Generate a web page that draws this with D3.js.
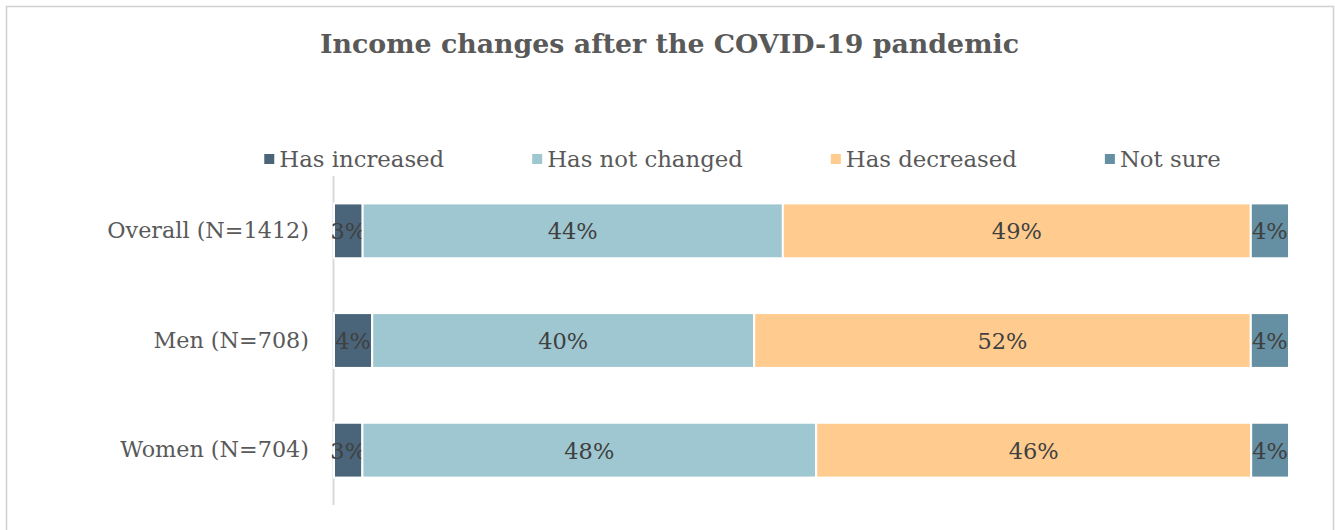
<!DOCTYPE html>
<html>
<head>
<meta charset="utf-8">
<script src="https://cdn.jsdelivr.net/npm/d3@7"></script>
<style>
  html, body { margin: 0; padding: 0; background: #fff; }
  svg { display: block; }
  text { font-family: "DejaVu Serif", Georgia, serif; fill: #595959; }
</style>
</head>
<body>
<svg id="chart" width="1335" height="530"></svg>
<script>
// Survey groups (top to bottom)
const groups = ["Overall (N=1412)", "Men (N=708)", "Women (N=704)"];

// Response categories, in stacking order
const responses = ["Has increased", "Has not changed", "Has decreased", "Not sure"];
const colors = ["#4a657a", "#9fc7d1", "#ffcb8e", "#658fa2"];

// Share of respondents (%) per group, one array per response
const hasIncreased  = [3, 4, 3];
const hasNotChanged = [44, 40, 48];
const hasDecreased  = [49, 52, 46];
const notSure       = [4, 4, 4];

const seriesValues = [hasIncreased, hasNotChanged, hasDecreased, notSure];

const W = 1335, H = 530;
const svg = d3.select("#chart");

// outer frame (open at the bottom)
svg.append("path")
  .attr("d", `M6.5,${H} V6.5 H1333.5 V${H}`)
  .attr("fill", "none")
  .attr("stroke", "#d0d0d0")
  .attr("stroke-width", 1.5);

// title
svg.append("text")
  .attr("x", 669.5).attr("y", 53)
  .attr("text-anchor", "middle")
  .style("font-size", "26.8px")
  .style("font-weight", "bold")
  .text("Income changes after the COVID-19 pandemic");

// plot area
const plot = { left: 334, right: 1289, top: 176, bottom: 505 };

const rows = groups.map((g, i) => {
  const row = { group: g };
  responses.forEach((r, k) => row[r] = seriesValues[k][i]);
  return row;
});

// 100% stacked: normalise each row by its total
const stacked = d3.stack().keys(responses).offset(d3.stackOffsetExpand)(rows);

const x = d3.scaleLinear().domain([0, 1]).range([plot.left, plot.right]);
const y = d3.scaleBand().domain(groups).range([plot.top, plot.bottom])
  .paddingInner(0.5).paddingOuter(0.25);

// category axis line
svg.append("line")
  .attr("x1", plot.left - 0.5).attr("x2", plot.left - 0.5)
  .attr("y1", plot.top).attr("y2", plot.bottom)
  .attr("stroke", "#d9d9d9").attr("stroke-width", 2);

// category labels
const yAxis = svg.append("g")
  .attr("transform", `translate(${plot.left},0)`)
  .call(d3.axisLeft(y).tickSize(0).tickPadding(25));
yAxis.select(".domain").remove();
yAxis.selectAll("text")
  .style("font-size", "22.3px")
  .style("font-family", '"DejaVu Serif", Georgia, serif')
  .attr("fill", "#595959");

// bar segments
const layers = svg.append("g").selectAll("g")
  .data(stacked)
  .join("g")
  .attr("fill", (d, i) => colors[i]);

layers.selectAll("rect")
  .data(d => d.map(p => ({ p, key: d.key })))
  .join("rect")
  .attr("x", d => x(d.p[0]))
  .attr("y", d => y(d.p.data.group))
  .attr("width", d => x(d.p[1]) - x(d.p[0]))
  .attr("height", y.bandwidth())
  .attr("stroke", "#fff")
  .attr("stroke-width", 2);

// data labels
layers.selectAll("text")
  .data(d => d.map(p => ({ p, key: d.key })))
  .join("text")
  .attr("x", d => (x(d.p[0]) + x(d.p[1])) / 2)
  .attr("y", d => y(d.p.data.group) + y.bandwidth() / 2)
  .attr("dy", "0.38em")
  .attr("text-anchor", "middle")
  .style("font-size", "22.5px")
  .style("fill", "#404040")
  .text(d => d.p.data[d.key] + "%");

// legend
const legend = svg.append("g").attr("transform", "translate(0,159)");
const items = legend.selectAll("g").data(responses).join("g");
items.append("rect")
  .attr("width", 10).attr("height", 10)
  .attr("y", -5)
  .attr("fill", (d, i) => colors[i]);
items.append("text")
  .attr("x", 15)
  .attr("dy", "0.36em")
  .style("font-size", "22.8px")
  .text(d => d);

// place legend entries with an even gap, centred above the plot
const gap = 88;
const widths = items.nodes().map(n => n.getBBox().width);
const total = d3.sum(widths) + gap * (widths.length - 1);
let cx = 742.5 - total / 2;
items.each(function (d, i) {
  d3.select(this).attr("transform", `translate(${cx},0)`);
  cx += widths[i] + gap;
});
</script>
</body>
</html>
